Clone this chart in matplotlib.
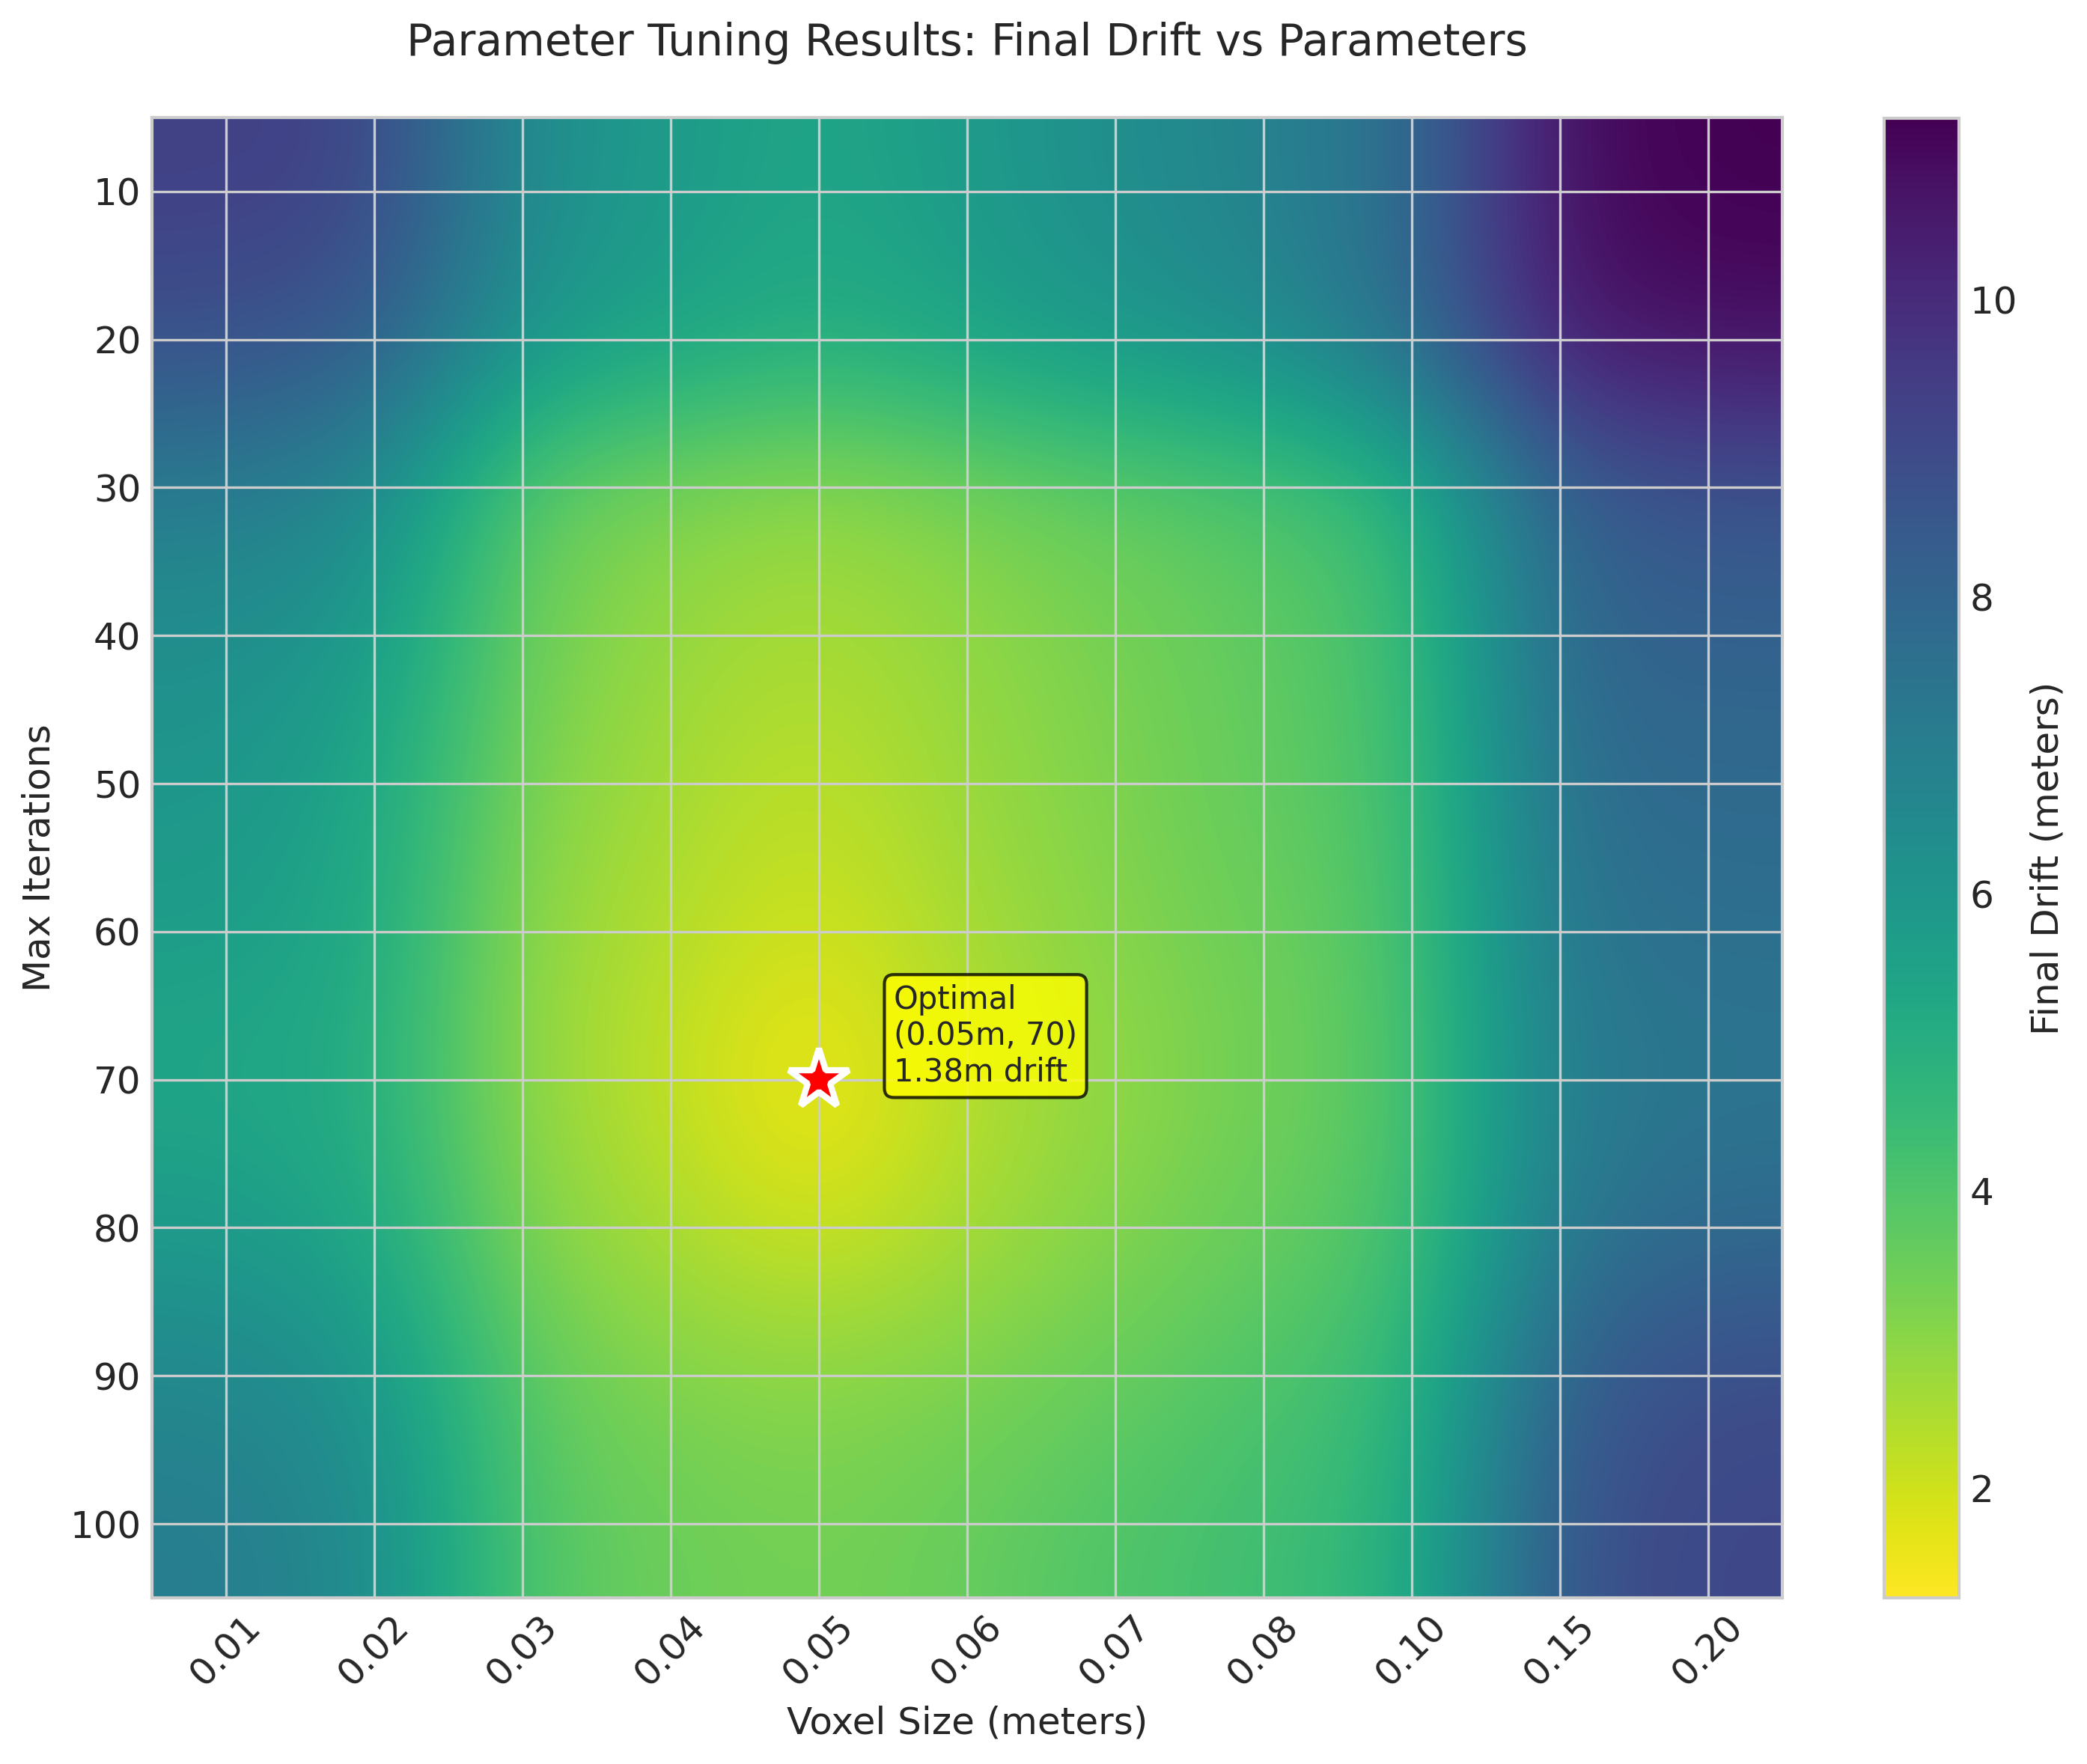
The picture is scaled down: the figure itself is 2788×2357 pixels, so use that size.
import numpy as np
import matplotlib
import matplotlib.pyplot as plt
matplotlib.use('Agg')

plt.style.use('seaborn-v0_8-whitegrid')
plt.rcParams['font.family'] = ['DejaVu Sans']

voxel_sizes = [0.01, 0.02, 0.03, 0.04, 0.05, 0.06, 0.07, 0.08, 0.10, 0.15, 0.20]
max_iterations = [10, 20, 30, 40, 50, 60, 70, 80, 90, 100]

# final drift (m), one row per max_iterations value
drift_10 = [9.3, 9.2, 6.3, 5.8, 5.3, 5.8, 6.3, 6.8, 7.6, 10.9, 11.22]
drift_20 = [8.8, 8.4, 6.0, 5.5, 5.0, 5.5, 6.0, 6.4, 7.7, 10.6, 10.8]
drift_30 = [7.1, 6.6, 3.7, 3.2, 2.9, 3.3, 3.7, 4.0, 4.6, 8.3, 8.7]
drift_40 = [6.3, 5.9, 3.4, 2.8, 2.5, 2.9, 3.3, 3.7, 4.2, 8.0, 8.1]
drift_50 = [6.0, 5.4, 3.2, 2.6, 2.2, 2.8, 3.2, 3.7, 4.1, 7.7, 7.8]
drift_60 = [5.7, 5.3, 2.9, 2.4, 1.9, 2.6, 3.1, 3.5, 4.0, 7.4, 7.6]
drift_70 = [5.3, 5.1, 2.8, 2.2, 1.26, 2.4, 2.9, 3.4, 3.9, 7.1, 7.3]
drift_80 = [5.8, 5.3, 3.1, 2.5, 1.9, 2.6, 3.1, 3.6, 4.0, 7.3, 7.8]
drift_90 = [6.6, 6.1, 3.7, 3.1, 3.0, 3.2, 3.6, 4.0, 4.5, 8.3, 8.9]
drift_100 = [7.0, 6.5, 3.9, 3.5, 3.3, 3.6, 4.0, 4.3, 4.8, 8.7, 9.1]

# best run as reported
optimal_voxel = 0.05
optimal_iters = 70
optimal_drift = 1.38

drift = np.array([drift_10, drift_20, drift_30, drift_40, drift_50,
                  drift_60, drift_70, drift_80, drift_90, drift_100])

fig = plt.figure(figsize=(2788 / 300, 2357 / 300), dpi=300)
ax = fig.add_axes([0.0728, 0.0942, 0.7812, 0.8392])
cax = fig.add_axes([0.9028, 0.0942, 0.0359, 0.8388])

im = ax.imshow(drift, cmap='viridis_r', aspect='auto', interpolation='bicubic')

ax.set_xticks(range(len(voxel_sizes)))
ax.set_xticklabels([f'{v:.2f}' for v in voxel_sizes], rotation=45, fontsize=12)
ax.set_yticks(range(len(max_iterations)))
ax.set_yticklabels([str(i) for i in max_iterations], fontsize=12)
ax.set_xlabel('Voxel Size (meters)', fontsize=12)
ax.set_ylabel('Max Iterations', fontsize=12)
ax.set_title('Parameter Tuning Results: Final Drift vs Parameters', fontsize=14, pad=20)
ax.grid(True)

cbar = fig.colorbar(im, cax=cax)
cbar.set_label('Final Drift (meters)', fontsize=12)
cbar.ax.tick_params(labelsize=12)

# mark the best combination
j = voxel_sizes.index(optimal_voxel)
i = max_iterations.index(optimal_iters)
ax.plot(j, i, marker='*', color='red', markersize=20,
        markeredgecolor='white', markeredgewidth=2)
ax.annotate(f'Optimal\n({optimal_voxel:.2f}m, {optimal_iters})\n{optimal_drift:.2f}m drift',
            xy=(j, i), xytext=(24, 14), textcoords='offset points', va='center',
            fontsize=10, bbox=dict(boxstyle='round,pad=0.3', facecolor='yellow', alpha=0.8))

plt.savefig('out.png', dpi=300)
plt.close()
